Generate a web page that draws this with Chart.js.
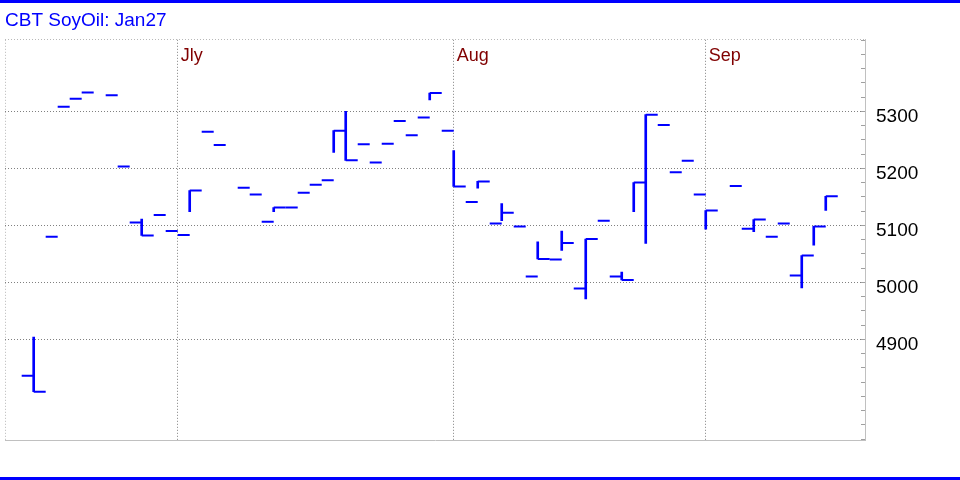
<!DOCTYPE html>
<html>
<head>
<meta charset="utf-8">
<title>CBT SoyOil: Jan27</title>
<script src="https://cdn.jsdelivr.net/npm/chart.js@4.4.1/dist/chart.umd.min.js"></script>
<style>
  body { margin: 0; background: #fff; }
  #wrap { position: relative; width: 960px; height: 480px; }
  .rule { position: absolute; left: 0; width: 960px; height: 3px; background: #0000ff; }
</style>
</head>
<body>
<div id="wrap">
  <canvas id="soyChart" width="960" height="480"></canvas>
  <div class="rule" style="top:0"></div>
  <div class="rule" style="top:477px"></div>
</div>
<script>
// trading sessions counted from 1 July (0 = Jly, 23 = Aug, 44 = Sep)
const sessions = [-13, -12, -11, -10, -9, -8, -6, -5, -4, -3, -2, -1, 0, 1, 2, 3, 5, 6, 7, 8, 9, 10,
  11, 12, 13, 14, 15, 16, 17, 18, 19, 20, 21, 22, 23, 24, 25, 26, 27, 28, 29, 30, 31, 32, 33, 34,
  35, 36, 37, 38, 39, 40, 41, 42, 43, 44, 46, 47, 48, 49, 50, 51, 52, 53, 54];
const highs = [4836, 4904, 5080, 5308, 5322, 5333, 5328, 5203, 5105, 5111, 5118, 5090, 5083, 5161, 5264, 5241, 5166, 5154, 5106, 5131, 5131, 5157,
  5171, 5179, 5266, 5300, 5242, 5210, 5243, 5283, 5258, 5289, 5332, 5266, 5231, 5141, 5177, 5103, 5138, 5098, 5010, 5071, 5040, 5090, 4989, 5076,
  5108, 5010, 5018, 5175, 5294, 5276, 5193, 5213, 5154, 5126, 5169, 5094, 5110, 5080, 5103, 5012, 5047, 5098, 5151];
const lows = [4836, 4808, 5080, 5308, 5322, 5333, 5328, 5203, 5105, 5082, 5118, 5090, 5083, 5124, 5264, 5241, 5166, 5154, 5106, 5124, 5131, 5157,
  5171, 5179, 5228, 5214, 5242, 5210, 5243, 5283, 5258, 5289, 5320, 5266, 5168, 5141, 5165, 5103, 5108, 5098, 5010, 5041, 5040, 5056, 4989, 4971,
  5108, 5010, 5004, 5124, 5068, 5276, 5193, 5213, 5154, 5093, 5169, 5094, 5089, 5080, 5103, 5012, 4990, 5065, 5126];
const closes = [4836, 4808, 5080, 5308, 5322, 5333, 5328, 5203, 5105, 5082, 5118, 5090, 5083, 5161, 5264, 5241, 5166, 5154, 5106, 5131, 5131, 5157,
  5171, 5179, 5266, 5214, 5242, 5210, 5243, 5283, 5258, 5289, 5332, 5266, 5168, 5141, 5177, 5103, 5122, 5098, 5010, 5041, 5040, 5069, 4989, 5076,
  5108, 5010, 5004, 5175, 5294, 5276, 5193, 5213, 5154, 5126, 5169, 5094, 5110, 5080, 5103, 5012, 5047, 5098, 5151];

const monthNames = ["Jly", "Aug", "Sep"];
const monthStarts = [0, 23, 44];
const priceLabels = [4900, 5000, 5100, 5200, 5300];

const blue = "#0000ff";
const fontName = '"Liberation Sans", Arial, sans-serif';

// high-low range lines (only sessions that actually moved)
const rangeData = [];
sessions.forEach((s, i) => {
  if (highs[i] > lows[i]) rangeData.push({ x: s, y: [lows[i], highs[i]] });
});
// close ticks, reaching right across the session
const closeData = sessions.map((s, i) => ({ x: s + 0.5, y: closes[i] }));

const monthLabels = {
  id: "monthLabels",
  afterDatasetsDraw(chart) {
    const { ctx, chartArea, scales } = chart;
    ctx.save();
    ctx.fillStyle = "#800000";
    ctx.font = "18px " + fontName;
    ctx.textBaseline = "alphabetic";
    monthStarts.forEach((v, i) => {
      ctx.fillText(monthNames[i], scales.x.getPixelForValue(v) + 3, chartArea.top + 21);
    });
    ctx.restore();
  },
};

const xMin = -14.39;
const xMax = 57.27;
const yMin = 4723.3;
const yMax = 5425.4;

new Chart(document.getElementById("soyChart"), {
  type: "bar",
  data: {
    datasets: [
      {
        type: "bar",
        data: rangeData,
        backgroundColor: blue,
        borderWidth: 0,
        barThickness: 2,
      },
      {
        type: "scatter",
        data: closeData,
        showLine: false,
        pointStyle: "line",
        pointRadius: 6,
        pointHoverRadius: 6,
        pointBorderWidth: 2,
        borderColor: blue,
        backgroundColor: blue,
      },
    ],
  },
  options: {
    responsive: false,
    animation: false,
    events: [],
    layout: { autoPadding: false, padding: { left: 5, right: 0, top: 0, bottom: 40 } },
    plugins: {
      legend: { display: false },
      tooltip: { enabled: false },
      title: {
        display: true,
        text: "CBT SoyOil: Jan27",
        align: "start",
        color: blue,
        font: { family: fontName, size: 19, weight: "normal" },
        padding: { top: 9, bottom: 8 },
      },
    },
    scales: {
      x: {
        type: "linear",
        min: xMin,
        max: xMax,
        offset: false,
        afterBuildTicks: (scale) => {
          scale.ticks = [xMin].concat(monthStarts).map((v) => ({ value: v }));
        },
        ticks: { display: false },
        grid: {
          offset: false,
          drawTicks: false,
          color: (c) => (c.tick && c.tick.value === xMin ? "#b8b8b8" : "#808080"),
        },
        border: { display: true, color: "#c0c0c0", width: 1, dash: [1, 2] },
      },
      y: {
        position: "right",
        min: yMin,
        max: yMax,
        afterBuildTicks: (scale) => {
          const t = [];
          for (let v = 4725; v <= 5425; v += 25) t.push({ value: v });
          t.push({ value: yMax });
          scale.ticks = t;
        },
        afterFit: (scale) => {
          scale.width = 95;
        },
        ticks: {
          autoSkip: false,
          padding: 15,
          labelOffset: 5,
          color: "#000",
          font: { family: fontName, size: 19 },
          callback: (v) => (priceLabels.includes(v) ? String(v) : ""),
        },
        grid: {
          drawTicks: true,
          tickLength: -4,
          tickColor: (c) => (c.tick && c.tick.value === yMax ? "transparent" : "#a0a0a0"),
          color: (c) => {
            if (!c.tick) return "transparent";
            if (c.tick.value === yMax) return "#b8b8b8";
            return priceLabels.includes(c.tick.value) ? "#808080" : "transparent";
          },
        },
        border: { display: true, color: "#c0c0c0", width: 1, dash: [1, 2] },
      },
    },
  },
  plugins: [monthLabels],
});
</script>
</body>
</html>
